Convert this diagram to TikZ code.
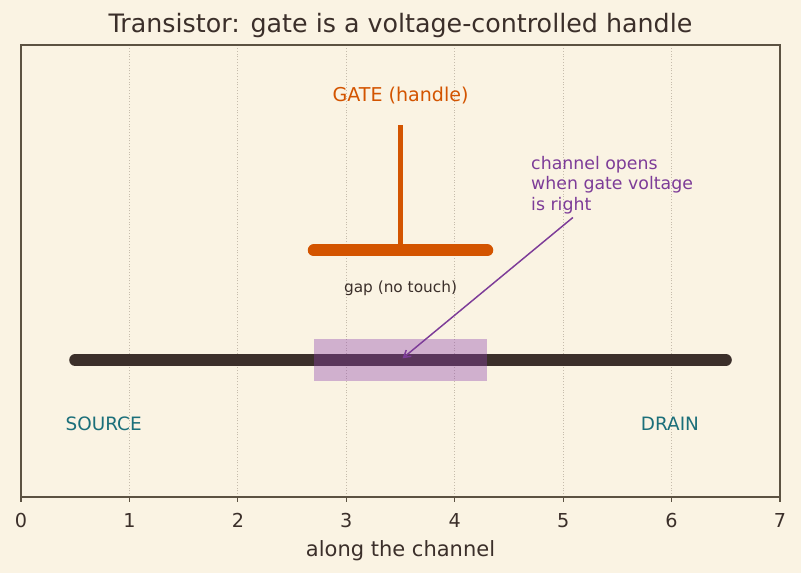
\documentclass[tikz,border=0pt]{standalone}
\usepackage{fontspec}
\setmainfont{DejaVu Sans}
\usepackage{xcolor}
\usepackage{tikz}
\usetikzlibrary{positioning, arrows.meta, calc}

\definecolor{paper}{HTML}{FAF3E3}
\definecolor{ink}{HTML}{3B2F2A}
\definecolor{spine}{HTML}{5C5242}
\definecolor{gridgray}{HTML}{C6BCAC}
\definecolor{gateorange}{HTML}{D35400}
\definecolor{notepurple}{HTML}{7D3C98}
\definecolor{zonepurple}{HTML}{8E44AD}
\definecolor{termteal}{HTML}{1B6F7A}

\tikzset{
    termlabel/.style={anchor=base, inner sep=0pt, text=termteal, font=\fontsize{13.8}{16}\selectfont},
    ticklabel/.style={anchor=base, inner sep=0pt, text=ink, font=\fontsize{14.4}{17}\selectfont},
}

\begin{document}
\begin{tikzpicture}[x=81.32pt, y=102.75pt]
    \fill[paper] (-0.1937,-0.5547) rectangle (7.1935,3.6277);
    \useasboundingbox (-0.1937,-0.5547) rectangle (7.1935,3.6277);
    % vertical grid
    \foreach \i in {1,...,6}
        \draw[gridgray, line width=0.6pt, dash pattern=on 0.8pt off 1.3pt] (\i,0) -- (\i,3.3);
    % channel and open zone
    \draw[ink, line width=9pt, line cap=round] (0.5,1) -- (6.5,1);
    \fill[zonepurple, opacity=0.38] (2.7,0.85) rectangle (4.3,1.15);
    \coordinate (chantip) at (3.5,1.0);
    % gate handle
    \draw[gateorange, line width=9pt, line cap=round] (2.7,1.8) -- (4.3,1.8);
    \draw[gateorange, line width=4.3pt] (3.5,1.8) -- (3.5,2.715);
    \node[anchor=base, inner sep=0pt, text=gateorange, font=\fontsize{14.3}{17}\selectfont] (gate) at (3.5,2.885) {GATE (handle)};
    \node[anchor=base, inner sep=0pt, text=ink, font=\fontsize{11.5}{14}\selectfont] (gap) at (3.5,1.493) {gap (no touch)};
    \node[termlabel] (source) at (0.762,0.489) {SOURCE};
    \node[termlabel] (drain) at (5.985,0.489) {DRAIN};
    % annotation
    \node[anchor=north west, inner sep=0pt, align=left, text=notepurple,
          font=\fontsize{13}{15.3}\selectfont] (note) at (4.703,2.489)
          {channel opens\\when gate voltage\\is right};
    \draw[notepurple, line width=1.1pt, -{Straight Barb[length=5pt, width=6pt]},
          shorten <=4pt, shorten >=2pt] (note) -- (chantip);
    % axes
    \draw[spine, line width=1.1pt] (0,0) rectangle (7,3.3);
    \foreach \i in {0,...,7} {
        \draw[spine, line width=0.8pt] (\i,0) -- ++(0,-3.7pt);
        \node[ticklabel] (tick\i) at (\i,-0.226) {\i};
    }
    \node[anchor=base, inner sep=0pt, text=ink, font=\fontsize{15.75}{18}\selectfont] (xlabel) at (3.5,-0.4307) {along the channel};
    \node[anchor=base, inner sep=0pt, text=ink, font=\fontsize{19}{22}\selectfont] (title) at (3.5,3.387) {Transistor: gate is a voltage-controlled handle};
\end{tikzpicture}
\end{document}
